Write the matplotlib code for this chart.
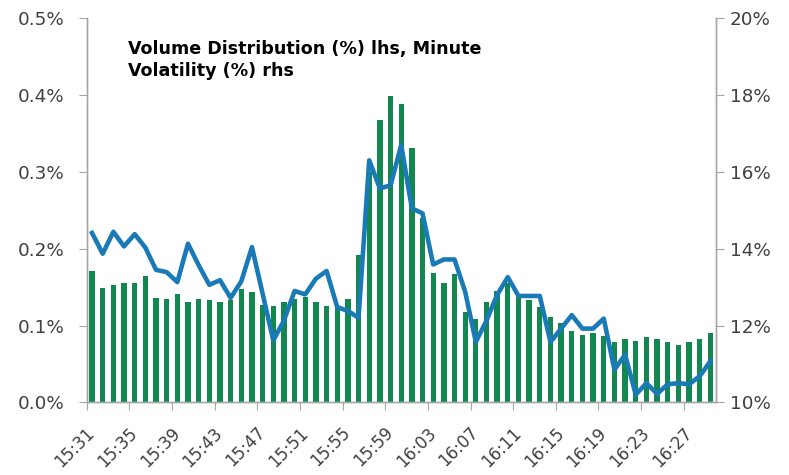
import matplotlib
matplotlib.use("Agg")
import matplotlib.pyplot as plt
from matplotlib.ticker import FixedLocator, FuncFormatter, NullFormatter

# ---- data ----
start_h, start_m = 15, 31
minutes = [f"{(start_h*60+start_m+i)//60}:{(start_h*60+start_m+i)%60:02d}" for i in range(59)]

volume_pct = [0.171, 0.149, 0.153, 0.156, 0.155, 0.164, 0.136, 0.135, 0.141, 0.131,
              0.134, 0.133, 0.131, 0.133, 0.148, 0.143, 0.127, 0.125, 0.130, 0.135,
              0.137, 0.131, 0.125, 0.125, 0.134, 0.192, 0.300, 0.368, 0.399, 0.389,
              0.331, 0.240, 0.169, 0.156, 0.167, 0.117, 0.109, 0.131, 0.145, 0.155,
              0.137, 0.133, 0.124, 0.111, 0.103, 0.093, 0.088, 0.090, 0.086, 0.078,
              0.082, 0.080, 0.085, 0.083, 0.078, 0.075, 0.078, 0.082, 0.090]

volatility_pct = [14.41, 13.87, 14.44, 14.06, 14.38, 14.03, 13.45, 13.39, 13.13, 14.13,
                  13.57, 13.06, 13.18, 12.72, 13.15, 14.04, 12.83, 11.61, 12.13, 12.90,
                  12.81, 13.22, 13.42, 12.48, 12.38, 12.20, 16.30, 15.57, 15.65, 16.70,
                  15.05, 14.92, 13.59, 13.72, 13.72, 12.88, 11.57, 12.13, 12.80, 13.26,
                  12.77, 12.77, 12.77, 11.57, 11.92, 12.27, 11.92, 11.92, 12.18, 10.85,
                  11.24, 10.20, 10.50, 10.22, 10.47, 10.50, 10.47, 10.68, 11.07]

left_ticks = [0.0, 0.1, 0.2, 0.3, 0.4, 0.5]
right_ticks = [10, 12, 14, 16, 18, 20]
title_text = "Volume Distribution (%) lhs, Minute\nVolatility (%) rhs"

# ---- style ----
bar_color = "#12874f"
line_color = "#1a7ab8"
axis_color = "#a6a6a6"
label_color = "#404040"
tick_font = "DejaVu Sans"
tick_size = 13.2

fig = plt.figure(figsize=(7.89, 4.75), dpi=100)
ax = fig.add_axes([0.1099, 0.153, 0.7972, 0.8085])
x = list(range(len(minutes)))
ax.bar(x, volume_pct, width=0.5, color=bar_color, zorder=2)
ax.set_xlim(-0.5, len(minutes) - 0.5)
ax.set_ylim(0, 0.5)
ax.yaxis.set_major_locator(FixedLocator(left_ticks))
ax.yaxis.set_major_formatter(FuncFormatter(lambda v, p: f"{v:.1f}%"))

ax2 = ax.twinx()
ax2.plot(x, volatility_pct, color=line_color, lw=3.3, solid_joinstyle="round", zorder=3)
ax2.set_ylim(10, 20)
ax2.yaxis.set_major_locator(FixedLocator(right_ticks))
ax2.yaxis.set_major_formatter(FuncFormatter(lambda v, p: f"{v:.0f}%"))

# x ticks: marks at category boundaries every 4, labels at category centers every 4
bounds = [i - 0.5 for i in range(0, len(minutes), 4)]
centers = list(range(0, len(minutes), 4))
ax.xaxis.set_major_locator(FixedLocator(bounds))
ax.xaxis.set_major_formatter(NullFormatter())
ax.xaxis.set_minor_locator(FixedLocator(centers))
ax.set_xticklabels([minutes[i] for i in centers], minor=True)
ax.tick_params(axis="x", which="major", length=6, color=axis_color, direction="out")
ax.tick_params(axis="x", which="minor", length=0, pad=20)
for lbl in ax.xaxis.get_minorticklabels():
    lbl.set_rotation(45)
    lbl.set_ha("right")
    lbl.set_va("center")
    lbl.set_rotation_mode("anchor")
    lbl.set_fontfamily(tick_font)
    lbl.set_fontsize(12.0)
    lbl.set_color(label_color)

for a in (ax, ax2):
    a.spines["top"].set_visible(False)
    for s in ("left", "right", "bottom"):
        a.spines[s].set_color(axis_color)
        a.spines[s].set_linewidth(1.0)
ax.tick_params(axis="y", length=6, color=axis_color, labelsize=tick_size, labelcolor=label_color, pad=10)
ax2.tick_params(axis="y", length=6, color=axis_color, labelsize=tick_size, labelcolor=label_color, pad=4)
for lbl in ax.get_yticklabels() + ax2.get_yticklabels():
    lbl.set_fontfamily(tick_font)

fig.text(128 / 789, 1 - 40 / 475, title_text, ha="left", va="top",
         fontsize=12.6, fontweight="bold", family="DejaVu Sans", color="#000000",
         linespacing=1.3)

fig.savefig("out.png", dpi=100)
